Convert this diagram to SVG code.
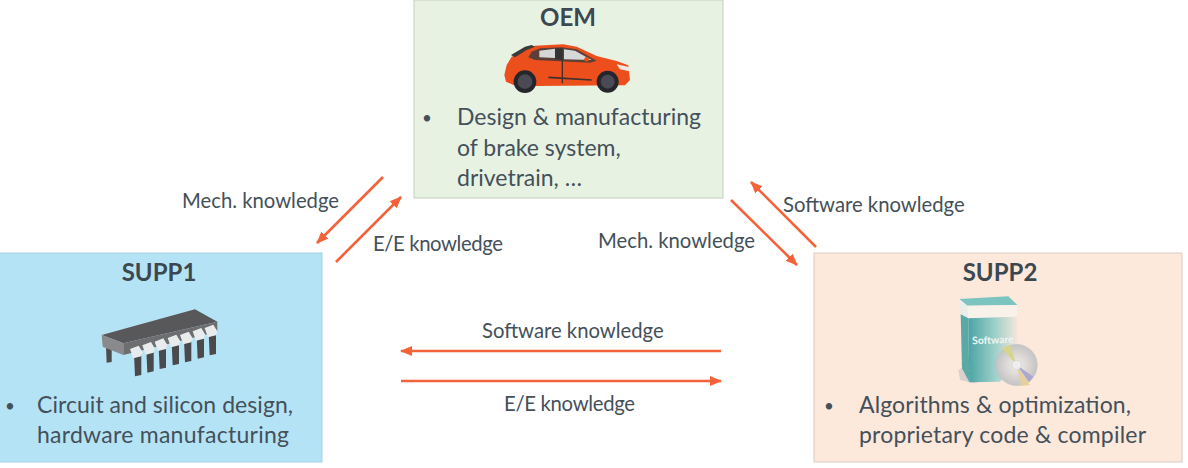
<svg xmlns="http://www.w3.org/2000/svg" width="1188" height="468" viewBox="0 0 1188 468">
  <defs>
    <marker id="head" markerUnits="userSpaceOnUse" markerWidth="13" markerHeight="12" refX="11" refY="6" orient="auto">
      <path d="M0,1 L12,6 L0,11 Z" fill="#f4623a"/>
    </marker>
    <linearGradient id="boxFace" x1="0" y1="0" x2="1" y2="0">
      <stop offset="0" stop-color="#4aa5a5"/>
      <stop offset="0.55" stop-color="#9fd0cb"/>
      <stop offset="1" stop-color="#f5e6da"/>
    </linearGradient>
    <radialGradient id="discFace" cx="0.5" cy="0.5" r="0.5">
      <stop offset="0" stop-color="#f2efe9"/>
      <stop offset="0.6" stop-color="#d8d4d2"/>
      <stop offset="1" stop-color="#c4c4c4"/>
    </radialGradient>
    <g id="pin">
      <path d="M12,25 L34,20 L34,88 L15,92 Z" fill="#4a4a4c"/>
      <path d="M0,10 L26,0 L38,20 L34,32 L10,38 Z" fill="#e8ecec"/>
    </g>
  </defs>
  <style>
    text { font-family: "Lato", "Liberation Sans", sans-serif; fill: #44505a; }
    .title { font-size: 24px; font-weight: 700; text-anchor: middle; fill: #3c4850; }
    .body { font-size: 23px; }
    .dot { font-size: 17px; }
    .label { font-size: 20.3px; }
    .link { stroke: #f4623a; stroke-width: 2.6; fill: none; marker-end: url(#head); }
  </style>
  <rect width="1188" height="468" fill="#ffffff"/>

  <g id="oem">
    <rect x="414" y="0" width="309" height="198" fill="#e8f2e2" stroke="#c4d0bd" stroke-width="1"/>
    <text class="title" x="568" y="26">OEM</text>
    <g transform="translate(480,30) scale(0.3333)">
      <path d="M73,135 L80,105 L95,80 L130,62 L165,47 L250,43 L290,50 L350,78 L410,93 L445,106 L450,150 L435,166 L170,168 L100,165 L78,155 Z" fill="#ec4f1c"/>
      <path d="M93,75 L135,50 L155,45 L165,50 L140,60 L105,82 Z" fill="#3a3a3a"/>
      <path d="M145,82 L155,65 L180,55 L245,52 L290,58 L350,92 L330,98 L165,90 Z" fill="#5b3f38"/>
      <path d="M178,62 L225,56 L225,84 L178,82 Z" fill="#d5d8d6"/>
      <path d="M225,55 L248,55 L248,90 L225,88 Z" fill="#333333"/>
      <path d="M252,58 L285,62 L335,90 L252,88 Z" fill="#d5d8d6"/>
      <path d="M247,88 L247,160" stroke="#40302c" stroke-width="4" fill="none"/>
      <path d="M205,142 L335,150" stroke="#40302c" stroke-width="5" fill="none"/>
      <circle cx="320" cy="88" r="7" fill="#e8500f"/>
      <path d="M410,103 L450,112 L448,124 L420,118 Z" fill="#f2e8e2"/>
      <circle cx="135" cy="155" r="34" fill="#25252c"/>
      <circle cx="135" cy="155" r="22" fill="#4a4a55"/>
      <circle cx="383" cy="155" r="33" fill="#25252c"/>
      <circle cx="383" cy="155" r="21" fill="#4a4a55"/>
    </g>
    <text class="dot" x="422" y="124">•</text>
    <text class="body" x="457" y="125" textLength="244">Design &amp; manufacturing</text>
    <text class="body" x="457" y="156">of brake system,</text>
    <text class="body" x="457" y="186">drivetrain, …</text>
  </g>

  <g id="supp1">
    <rect x="-1" y="253" width="323" height="209" fill="#b5e3f6" stroke="#a5d0e2" stroke-width="1"/>
    <text class="title" x="159" y="281">SUPP1</text>
    <g transform="translate(80,300) scale(0.3333)">
      <path d="M78,140 L95,140 L95,186 L80,188 Z" fill="#4c4c4e"/>
      <path d="M65,105 L345,28 L412,65 L130,130 Z" fill="#58585a"/>
      <path d="M65,105 L130,130 L130,165 L68,140 Z" fill="#8a8a8c"/>
      <path d="M130,130 L412,65 L412,95 L130,165 Z" fill="#6e6e71"/>
      <use href="#pin" x="150" y="137"/>
      <use href="#pin" x="187" y="126"/>
      <use href="#pin" x="224" y="115"/>
      <use href="#pin" x="263" y="104"/>
      <use href="#pin" x="300" y="95"/>
      <use href="#pin" x="338" y="84"/>
      <use href="#pin" x="374" y="74"/>
    </g>
    <text class="dot" x="5" y="412">•</text>
    <text class="body" x="37" y="413" textLength="256">Circuit and silicon design,</text>
    <text class="body" x="37" y="443" textLength="252">hardware manufacturing</text>
  </g>

  <g id="supp2">
    <rect x="814" y="253" width="368" height="209" fill="#fde8dc" stroke="#dcccc0" stroke-width="1"/>
    <text class="title" x="1000" y="281">SUPP2</text>
    <g transform="translate(930,285) scale(0.3333)">
      <path d="M85,255 L110,240 L200,280 L130,295 L90,285 Z" fill="#d9d2cc"/>
      <path d="M100,250 L95,235 L112,235 L120,270 Z" fill="#33373a"/>
      <path d="M88,42 L235,34 L262,60 L112,62 Z" fill="#7cc4c0"/>
      <path d="M88,42 L112,62 L115,100 L92,88 Z" fill="#e9efe8"/>
      <path d="M112,62 L262,60 L262,95 L115,100 Z" fill="#f8f2ea"/>
      <path d="M92,88 L115,100 L118,292 L96,250 Z" fill="#5aa9a7"/>
      <path d="M115,100 L262,95 L262,230 L210,290 L118,292 Z" fill="url(#boxFace)"/>
      <text x="127" y="178" transform="rotate(-2 127 178)" style="font-size:31px;font-weight:700;fill:#eef6f3">Software</text>
      <circle cx="260" cy="240" r="62" fill="url(#discFace)" stroke="#b8b8b8"/>
      <path d="M260,240 L215,190 L240,180 Z" fill="#d6d58e"/>
      <path d="M260,240 L300,300 L275,303 Z" fill="#e8cf9c"/>
      <path d="M260,240 L310,275 L298,292 Z" fill="#a9a8d0"/>
      <circle cx="260" cy="240" r="14" fill="#eeeeee" stroke="#b5b5b5"/>
    </g>
    <text class="dot" x="824" y="412">•</text>
    <text class="body" x="859" y="413" textLength="272">Algorithms &amp; optimization,</text>
    <text class="body" x="859" y="443" textLength="287">proprietary code &amp; compiler</text>
  </g>

  <g id="connectors">
    <line class="link" x1="383" y1="177" x2="317" y2="243"/>
    <line class="link" x1="336" y1="262" x2="401" y2="197"/>
    <line class="link" x1="731" y1="200" x2="797" y2="265"/>
    <line class="link" x1="816" y1="247" x2="751" y2="182"/>
    <line class="link" x1="721" y1="351" x2="401" y2="351"/>
    <line class="link" x1="401" y1="381" x2="721" y2="381"/>
  </g>

  <g id="labels">
    <text class="label" x="182" y="208">Mech. knowledge</text>
    <text class="label" x="373" y="251" textLength="130">E/E knowledge</text>
    <text class="label" x="598" y="248">Mech. knowledge</text>
    <text class="label" x="783" y="212">Software knowledge</text>
    <text class="label" x="482" y="338">Software knowledge</text>
    <text class="label" x="504" y="411" textLength="131">E/E knowledge</text>
  </g>
</svg>
